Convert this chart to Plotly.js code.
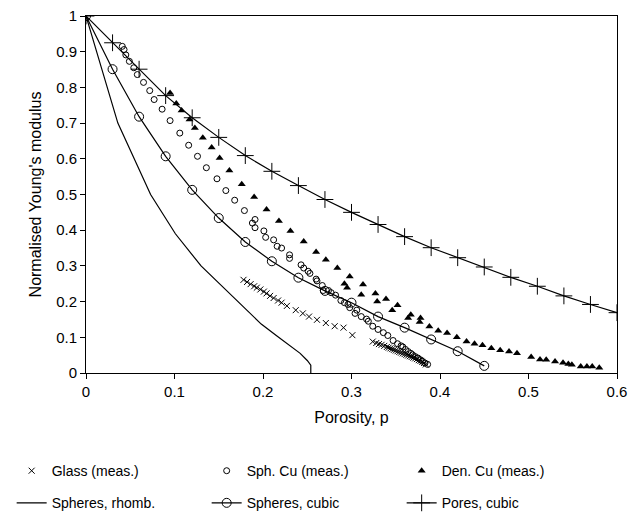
<!DOCTYPE html>
<html>
<head>
<meta charset="utf-8">
<script src="https://cdn.plot.ly/plotly-3.0.1.min.js"></script>
<style>html,body{margin:0;padding:0;background:#fff;}#chart{width:643px;height:531px;}</style>
</head>
<body>
<div id="chart"></div>
<script>
// Glass (measured)
const glassP = [0.178,0.182,0.186,0.190,0.193,0.197,0.201,0.204,0.208,0.212,0.217,0.221,0.227,0.237,0.245,0.252,0.261,0.271,0.281,0.291,0.301,
  0.324,0.328,0.331,0.334,0.337,0.340,0.342,0.344,0.346,0.348,0.350,0.352,0.354,0.356,0.358,0.360,0.362,0.364,0.366,0.368,0.370,0.372,0.374,0.376,0.378,0.380,0.382,0.384];
const glassE = [0.261,0.255,0.249,0.243,0.239,0.234,0.228,0.223,0.216,0.210,0.203,0.197,0.188,0.176,0.167,0.158,0.149,0.140,0.131,0.127,0.106,
  0.088,0.084,0.081,0.079,0.076,0.073,0.071,0.069,0.067,0.065,0.063,0.061,0.059,0.057,0.055,0.053,0.051,0.049,0.047,0.045,0.043,0.041,0.039,0.036,0.034,0.031,0.028,0.024];

// Sph. Cu (measured)
const sphP = [0.041,0.043,0.045,0.049,0.054,0.058,0.065,0.072,0.077,0.086,0.095,0.106,0.116,0.126,0.136,0.148,0.158,0.168,0.179,0.188,0.191,0.191,
  0.201,0.203,0.212,0.216,0.221,0.230,0.230,0.243,0.246,0.251,0.253,0.260,0.261,0.267,0.268,0.274,0.277,0.282,0.288,0.292,0.296,0.298,0.304,0.306,
  0.311,0.317,0.319,0.324,0.330,0.336,0.341,0.347,0.352,0.356,0.358,0.361,0.364,0.367,0.369,0.372,0.375,0.378,0.380,0.383,0.386];
const sphE = [0.915,0.906,0.891,0.873,0.855,0.836,0.814,0.791,0.766,0.739,0.707,0.672,0.638,0.607,0.575,0.544,0.511,0.484,0.455,0.420,0.430,0.407,
  0.398,0.380,0.373,0.355,0.350,0.331,0.321,0.303,0.294,0.285,0.279,0.263,0.258,0.245,0.231,0.231,0.225,0.218,0.203,0.197,0.192,0.183,0.167,0.176,
  0.158,0.151,0.145,0.131,0.122,0.113,0.105,0.091,0.082,0.076,0.073,0.066,0.060,0.055,0.051,0.046,0.042,0.037,0.033,0.028,0.024];

// Den. Cu (measured)
const denP = [0.095,0.102,0.108,0.117,0.123,0.132,0.142,0.151,0.162,0.176,0.190,0.204,0.218,0.231,0.246,0.260,0.271,0.284,0.298,0.292,0.295,0.313,
  0.311,0.327,0.329,0.339,0.346,0.352,0.364,0.367,0.378,0.377,0.388,0.398,0.408,0.419,0.430,0.439,0.448,0.458,0.468,0.478,0.487,0.503,0.513,0.520,
  0.530,0.539,0.545,0.549,0.559,0.566,0.572,0.580];
const denE = [0.784,0.755,0.735,0.710,0.686,0.659,0.632,0.602,0.567,0.529,0.493,0.458,0.426,0.398,0.368,0.339,0.317,0.294,0.270,0.250,0.239,0.248,
  0.219,0.223,0.200,0.207,0.176,0.190,0.154,0.163,0.154,0.143,0.130,0.118,0.112,0.100,0.088,0.082,0.078,0.069,0.064,0.060,0.055,0.045,0.038,0.037,
  0.032,0.029,0.025,0.023,0.018,0.018,0.018,0.015];

// Spheres, rhombohedral (model)
const rhombP = [0,0.036,0.073,0.101,0.130,0.170,0.198,0.215,0.230,0.242,0.250,0.254,0.254];
const rhombE = [1,0.700,0.500,0.390,0.300,0.205,0.137,0.105,0.078,0.055,0.035,0.022,0];

// Spheres, cubic (model)
const cubicP = [0,0.03,0.06,0.09,0.12,0.15,0.18,0.21,0.24,0.27,0.30,0.33,0.36,0.39,0.42,0.45];
const cubicE = [1,0.851,0.718,0.607,0.513,0.434,0.367,0.313,0.267,0.230,0.197,0.158,0.127,0.094,0.061,0.020];

// Pores, cubic (model)
const poresP = [0,0.03,0.06,0.09,0.12,0.15,0.18,0.21,0.24,0.27,0.30,0.33,0.36,0.39,0.42,0.45,0.48,0.51,0.54,0.57,0.60];
const poresE = [1,0.925,0.851,0.777,0.715,0.660,0.609,0.565,0.525,0.486,0.450,0.416,0.382,0.351,0.323,0.297,0.268,0.243,0.216,0.192,0.169];

const xTicks = [0,0.1,0.2,0.3,0.4,0.5,0.6];
const yTicks = [0,0.1,0.2,0.3,0.4,0.5,0.6,0.7,0.8,0.9,1];

const FONT = 'Liberation Sans, Arial, sans-serif';

const traces = [
  {x: glassP, y: glassE, name: 'Glass (meas.)', mode: 'markers', legend: 'legend',
   marker: {symbol: 'x-thin', size: 6, color: '#000', line: {color: '#000', width: 1}}},
  {x: sphP, y: sphE, name: 'Sph. Cu (meas.)', mode: 'markers', legend: 'legend',
   marker: {symbol: 'circle-open', size: 6, color: '#000', line: {color: '#000', width: 1}}},
  {x: denP, y: denE, name: 'Den. Cu (meas.)', mode: 'markers', legend: 'legend',
   marker: {symbol: 'triangle-up', size: 7, color: '#000'}},
  {x: rhombP, y: rhombE, name: 'Spheres, rhomb.', mode: 'lines', legend: 'legend2',
   line: {color: '#000', width: 1.2}},
  {x: cubicP, y: cubicE, name: 'Spheres, cubic', mode: 'lines+markers', legend: 'legend2',
   line: {color: '#000', width: 1.2},
   marker: {symbol: 'circle-open', size: 9, color: '#000', line: {color: '#000', width: 1}}},
  {x: poresP, y: poresE, name: 'Pores, cubic', mode: 'lines+markers', legend: 'legend2',
   line: {color: '#000', width: 1.2},
   marker: {symbol: 'cross-thin', size: 12, color: '#000', line: {color: '#000', width: 1}}}
];

const axisCommon = {
  showgrid: false, zeroline: false, showline: true, mirror: true,
  linecolor: '#000', linewidth: 1, ticks: 'outside', ticklen: 5, tickcolor: '#000', tickwidth: 1,
  tickfont: {family: FONT, size: 15, color: '#000'}
};

const layout = {
  width: 643, height: 531,
  margin: {l: 83, r: 26, t: 16, b: 142},
  paper_bgcolor: '#fff', plot_bgcolor: '#fff',
  font: {family: FONT, color: '#000'},
  xaxis: Object.assign({}, axisCommon, {range: [0, 0.6], tickvals: xTicks, ticktext: xTicks.map(String),
    title: {text: 'Porosity, p', font: {family: FONT, size: 16, color: '#000'}, standoff: 12}}),
  yaxis: Object.assign({}, axisCommon, {range: [0, 1], tickvals: yTicks, ticktext: yTicks.map(String),
    title: {text: "Normalised Young's modulus", font: {family: FONT, size: 16, color: '#000'}, standoff: 10}}),
  showlegend: true,
  legend: {orientation: 'h', x: -0.14, xanchor: 'left', y: -0.23, yanchor: 'top',
    entrywidth: 150, entrywidthmode: 'pixels', font: {family: FONT, size: 14, color: '#000'},
    bgcolor: 'rgba(0,0,0,0)', traceorder: 'normal'},
  legend2: {orientation: 'h', x: -0.14, xanchor: 'left', y: -0.32, yanchor: 'top',
    entrywidth: 150, entrywidthmode: 'pixels', font: {family: FONT, size: 14, color: '#000'},
    bgcolor: 'rgba(0,0,0,0)', traceorder: 'normal'}
};

Plotly.newPlot('chart', traces, layout, {displayModeBar: false, staticPlot: true});
</script>
</body>
</html>
